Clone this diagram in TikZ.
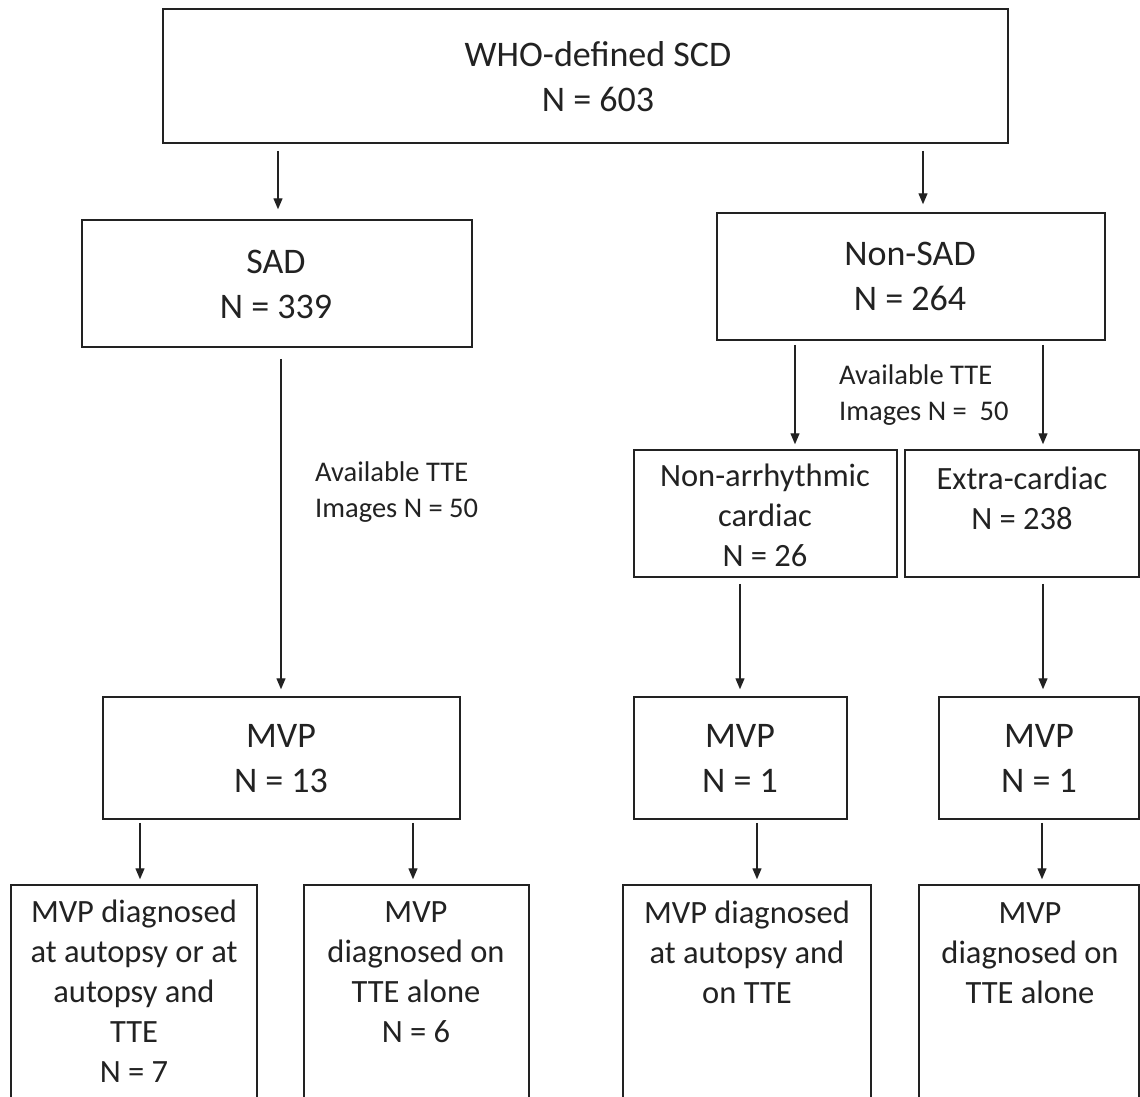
\documentclass[tikz,border=0pt]{standalone}
\usepackage{fontspec}
\setmainfont{Carlito}
\usetikzlibrary{arrows.meta}
\definecolor{ink}{HTML}{222222}
\tikzset{
  box/.style={draw=ink, line width=1.5pt, inner sep=0pt},
  bigtxt/.style={text=ink, align=center, inner sep=0pt, anchor=base, font=\fontsize{36}{45}\selectfont},
  midtxt/.style={text=ink, align=center, inner sep=0pt, anchor=base, font=\fontsize{32.5}{40}\selectfont},
  lbltxt/.style={text=ink, align=left, inner sep=0pt, anchor=base west, font=\fontsize{28.5}{36}\selectfont},
  arr/.style={draw=ink, line width=1.3pt, -{Triangle[length=11pt,width=9pt]}},
}
\begin{document}
\begin{tikzpicture}[x=1pt,y=-1pt]
\clip (0,0) rectangle (1140,1096);
\fill[white] (0,0) rectangle (1140,1096);

% boxes
\node[box, minimum width=845pt, minimum height=134pt] (top) at (585.5,76) {};
\node[box, minimum width=390pt, minimum height=127pt] (sad) at (277,283.5) {};
\node[box, minimum width=388pt, minimum height=127pt] (nonsad) at (911,276.5) {};
\node[box, minimum width=263pt, minimum height=127pt] (nonarr) at (765.5,513.5) {};
\node[box, minimum width=234pt, minimum height=127pt] (extra) at (1022,513.5) {};
\node[box, minimum width=357pt, minimum height=122pt] (mvpL) at (281.5,758) {};
\node[box, minimum width=213pt, minimum height=122pt] (mvpM) at (740.5,758) {};
\node[box, minimum width=200pt, minimum height=122pt] (mvpR) at (1039,758) {};
\node[box, minimum width=246pt, minimum height=225pt] (b1) at (134,997.5) {};
\node[box, minimum width=225pt, minimum height=225pt] (b2) at (416.5,997.5) {};
\node[box, minimum width=248pt, minimum height=225pt] (b3) at (747,997.5) {};
\node[box, minimum width=220pt, minimum height=225pt] (b4) at (1029,997.5) {};

% texts (anchor base = baseline of last line)
\node[bigtxt] (ttop) at (598,111) {WHO-defined SCD\\N = 603};
\node[bigtxt] (tsad) at (276,318) {SAD\\N = 339};
\node[bigtxt] (tnonsad) at (910,310) {Non-SAD\\N = 264};
\node[midtxt] (tnonarr) at (765,566) {Non-arrhythmic\\cardiac\\N = 26};
\node[midtxt] (textra) at (1022,529) {Extra-cardiac\\N = 238};
\node[bigtxt] (tmvpL) at (281,792) {MVP\\N = 13};
\node[bigtxt] (tmvpM) at (740,792) {MVP\\N = 1};
\node[bigtxt] (tmvpR) at (1039,792) {MVP\\N = 1};
\node[midtxt] (tb1) at (134,1082) {MVP diagnosed\\at autopsy or at\\autopsy and\\TTE\\N = 7};
\node[midtxt] (tb2) at (416,1042) {MVP\\diagnosed on\\TTE alone\\N = 6};
\node[midtxt] (tb3) at (747,1003) {MVP diagnosed\\at autopsy and\\on TTE};
\node[midtxt] (tb4) at (1030,1003) {MVP\\diagnosed on\\TTE alone};
\node[lbltxt] (lsad) at (315,517) {Available TTE\\Images N = 50};
\node[lbltxt] (lnonsad) at (839,420) {Available TTE\\Images N =\ \ 50};

% x positions of connectors
\coordinate (xa) at (278,0);
\coordinate (xb) at (923,0);
\coordinate (xc) at (795,0);
\coordinate (xd) at (1043,0);
\coordinate (xe) at (281,0);
\coordinate (xf) at (740,0);
\coordinate (xg) at (140,0);
\coordinate (xh) at (413,0);
\coordinate (xi) at (757,0);
\coordinate (xj) at (1042,0);

% connectors
\draw[arr, shorten <=7pt, shorten >=10pt] (top.south -| xa) -- (sad.north -| xa);
\draw[arr, shorten <=7pt, shorten >=8pt] (top.south -| xb) -- (nonsad.north -| xb);
\draw[arr, shorten <=4pt, shorten >=5pt] (nonsad.south -| xc) -- (nonarr.north -| xc);
\draw[arr, shorten <=4pt, shorten >=5pt] (nonsad.south -| xd) -- (extra.north -| xd);
\draw[arr, shorten <=11pt, shorten >=7pt] (sad.south -| xe) -- (mvpL.north -| xe);
\draw[arr, shorten <=6pt, shorten >=7pt] (nonarr.south -| xf) -- (mvpM.north -| xf);
\draw[arr, shorten <=6pt, shorten >=7pt] (extra.south -| xd) -- (mvpR.north -| xd);
\draw[arr, shorten <=3pt, shorten >=5pt] (mvpL.south -| xg) -- (b1.north -| xg);
\draw[arr, shorten <=3pt, shorten >=5pt] (mvpL.south -| xh) -- (b2.north -| xh);
\draw[arr, shorten <=3pt, shorten >=5pt] (mvpM.south -| xi) -- (b3.north -| xi);
\draw[arr, shorten <=3pt, shorten >=5pt] (mvpR.south -| xj) -- (b4.north -| xj);
\end{tikzpicture}
\end{document}
